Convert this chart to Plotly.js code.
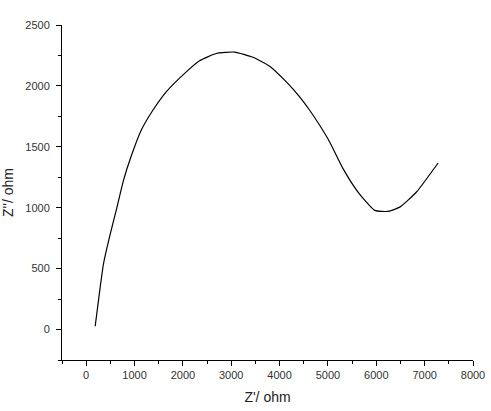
<!DOCTYPE html>
<html>
<head>
<meta charset="utf-8">
<script src="https://cdn.plot.ly/plotly-3.0.1.min.js"></script>
<style>
  html, body { margin: 0; padding: 0; background: #fff; }
  #plot { width: 491px; height: 411px; }
</style>
</head>
<body>
<div id="plot"></div>
<script>
const zReal = [186, 290, 358, 482, 621, 772, 925, 1138, 1379, 1655, 2070, 2345, 2690, 3070,
  3449, 3794, 4140, 4415, 4622, 4829, 5036, 5312, 5622, 5968, 6243, 6486, 6831, 7278];
const zImag = [27, 348, 540, 759, 978, 1225, 1416, 1636, 1800, 1951, 2115, 2206, 2266, 2278,
  2235, 2162, 2033, 1910, 1800, 1677, 1540, 1321, 1129, 978, 970, 1005, 1129, 1367];

const xTitle = "Z'/ ohm";
const yTitle = "Z''/ ohm";

const trace = {
  type: 'scatter',
  mode: 'lines',
  x: zReal,
  y: zImag,
  line: { color: '#000', width: 1.2, shape: 'spline', smoothing: 0.5 },
  hoverinfo: 'skip'
};

const tickFont = { family: 'Liberation Sans, Arial, sans-serif', size: 11, color: '#333' };
const titleFont = { family: 'Liberation Sans, Arial, sans-serif', size: 14, color: '#222' };

const layout = {
  width: 491,
  height: 411,
  margin: { l: 62, r: 18, t: 25, b: 51 },
  paper_bgcolor: '#fff',
  plot_bgcolor: '#fff',
  showlegend: false,
  xaxis: {
    range: [-500, 8000],
    tick0: 0,
    dtick: 1000,
    ticks: 'outside',
    ticklen: 5,
    tickcolor: '#000',
    showline: true,
    linecolor: '#000',
    linewidth: 1,
    showgrid: false,
    zeroline: false,
    tickfont: tickFont,
    minor: { dtick: 500, ticks: 'outside', ticklen: 3, tickcolor: '#000', showgrid: false },
    title: { text: xTitle, font: titleFont, standoff: 11 }
  },
  yaxis: {
    range: [-250, 2500],
    tick0: 0,
    dtick: 500,
    ticks: 'outside',
    ticklen: 5,
    tickcolor: '#000',
    showline: true,
    linecolor: '#000',
    linewidth: 1,
    showgrid: false,
    zeroline: false,
    tickfont: tickFont,
    ticklabelstandoff: 4,
    minor: { dtick: 250, ticks: 'outside', ticklen: 3, tickcolor: '#000', showgrid: false },
    title: { text: yTitle, font: titleFont, standoff: 10 }
  }
};

Plotly.newPlot('plot', [trace], layout, { staticPlot: true, displayModeBar: false });
</script>
</body>
</html>
